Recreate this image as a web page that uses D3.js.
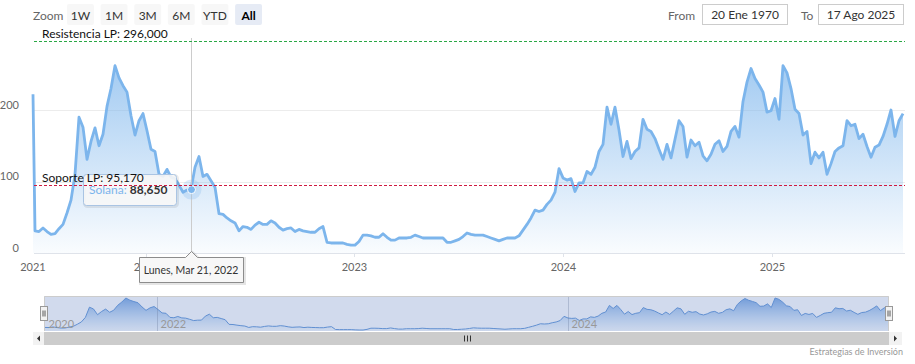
<!DOCTYPE html>
<html>
<head>
<meta charset="utf-8">
<script src="https://cdn.jsdelivr.net/npm/d3@7"></script>
<style>
  body { margin: 0; background: #fff; }
  svg text { font-family: Lato, "Open Sans", sans-serif; }
</style>
</head>
<body>
<div id="chart"></div>
<script>
// weekly closes (Monday) starting at firstWeek
const firstWeek = '2021-06-21'
const outlierDate = '1970-01-20'
const outlierValue = 222
const prices = [
  31, 30, 35, 30, 26, 27, 34, 40, 56, 74, 110, 190, 176, 131, 156, 175, 150, 166, 205, 230,
  262, 245, 234, 225, 192, 165, 185, 195, 171, 145, 142, 110, 107, 117, 106, 104, 95, 85, 88, 88.65,
  120, 135, 107, 110, 101, 92, 55, 54, 49, 45, 42, 31, 37, 36, 33, 39, 43, 40, 40, 45,
  42, 36, 32, 34, 35, 30, 33, 31, 30, 29, 29, 34, 37, 15, 14, 14, 14, 14, 12, 11,
  11, 16, 25, 25, 24, 22, 22, 27, 22, 18, 18, 21, 21, 21, 22, 25, 23, 21, 21, 21,
  21, 21, 21, 15, 15, 17, 19, 23, 28, 26, 25, 25, 25, 23, 21, 19, 17, 19, 21, 21,
  21, 24, 32, 40, 49, 60, 58, 60, 68, 74, 85, 118, 105, 102, 104, 86, 98, 98, 114, 110,
  120, 142, 152, 204, 180, 204, 172, 135, 156, 132, 142, 147, 187, 173, 170, 160, 145, 131, 152, 133,
  159, 185, 177, 134, 158, 150, 155, 136, 129, 138, 152, 157, 142, 149, 170, 177, 162, 212, 239, 258,
  244, 235, 225, 197, 199, 216, 187, 262, 252, 230, 201, 195, 165, 170, 125, 141, 133, 141, 110, 125,
  142, 147, 150, 185, 178, 180, 160, 166, 149, 134, 148, 151, 163, 180, 200, 163, 185, 195,
]
const seriesName = 'Solana'
const hoverIndex = 39

const yTicks = [0, 100, 200]
const yearTicks = ['2021-01-01', '2022-01-01', '2023-01-01', '2024-01-01', '2025-01-01']
const yearLabels = ['2021', '2022', '2023', '2024', '2025']
const navTickDates = ['2021-06-21', '2022-01-01', '2024-01-01']
const navTickLabels = ['2020', '2022', '2024']

const plotLineNames = ['Resistencia LP', 'Soporte LP']
const plotLineValues = [296, 95.17]

const rangeButtons = ['1W', '1M', '3M', '6M', 'YTD', 'All']
const selectedButton = 'All'
const rangeFrom = '1970-01-20'
const rangeTo = '2025-08-17'
const credits = 'Estrategias de Inversión'

const config = {
  width: 915,
  height: 364,
  plot: {left: 34, right: 905, top: 38, bottom: 253},
  nav: {left: 44, right: 889, top: 296, bottom: 331},
  scroll: {top: 332, height: 13},
  lineColor: '#7cb5ec',
  plotLineColors: ['#2aa845', '#d01a40'],
}

const es = d3.timeFormatLocale({
  dateTime: '%A, %e %B %Y', date: '%d/%m/%Y', time: '%H:%M:%S', periods: ['AM', 'PM'],
  days: ['Domingo', 'Lunes', 'Martes', 'Miércoles', 'Jueves', 'Viernes', 'Sábado'],
  shortDays: ['Dom', 'Lun', 'Mar', 'Mié', 'Jue', 'Vie', 'Sáb'],
  months: ['Enero', 'Febrero', 'Marzo', 'Abril', 'Mayo', 'Junio', 'Julio', 'Agosto',
    'Septiembre', 'Octubre', 'Noviembre', 'Diciembre'],
  shortMonths: ['Ene', 'Feb', 'Mar', 'Abr', 'May', 'Jun', 'Jul', 'Ago', 'Sep', 'Oct', 'Nov', 'Dic'],
})
const fmtNum = d3.formatLocale({decimal: ',', thousands: '.', grouping: [3], currency: ['', '']}).format('.3f')
const parse = d3.timeParse('%Y-%m-%d')
const fmtTip = es.format('%A, %b %d, %Y')
const fmtInput = es.format('%d %b %Y')

const start = parse(firstWeek)
const series = prices.map((v, i) => ({date: d3.timeDay.offset(start, 7 * i), value: v}))
const mainData = [{date: parse(outlierDate), value: outlierValue}, ...series]
const last = series[series.length - 1].date

const P = config.plot
const N = config.nav

// ordinal-like axis: the lone 1970 point takes a single slot before the weekly data
const x = d3.scaleTime()
    .domain([parse(outlierDate), start, last])
    .range([33, 35, 903])
const y = d3.scaleLinear().domain([0, 300]).range([P.bottom, 38.5])

const navX = d3.scaleTime()
    .domain([start, parse('2022-01-01'), parse('2024-01-01'), last])
    .range([N.left + 1, 157, 568, N.right - 1])
const navY = d3.scaleLinear().domain(d3.extent(prices)).range([N.bottom - 1, N.top + 2])

const svg = d3.select('#chart').append('svg')
    .attr('width', config.width)
    .attr('height', config.height)

const defs = svg.append('defs')
const grad = defs.append('linearGradient').attr('id', 'areaFill')
    .attr('gradientUnits', 'userSpaceOnUse')
    .attr('x1', 0).attr('x2', 0).attr('y1', P.top).attr('y2', P.bottom)
grad.append('stop').attr('offset', 0).attr('stop-color', config.lineColor).attr('stop-opacity', 0.8)
grad.append('stop').attr('offset', 1).attr('stop-color', config.lineColor).attr('stop-opacity', 0.04)
const navGrad = defs.append('linearGradient').attr('id', 'navFill')
    .attr('gradientUnits', 'userSpaceOnUse')
    .attr('x1', 0).attr('x2', 0).attr('y1', N.top).attr('y2', N.bottom)
navGrad.append('stop').attr('offset', 0).attr('stop-color', '#3f7fd6').attr('stop-opacity', 0.75)
navGrad.append('stop').attr('offset', 1).attr('stop-color', '#7cb5ec').attr('stop-opacity', 0.05)

/* range selector and date inputs */
const ctrl = svg.append('g')
ctrl.append('text').attr('x', 33).attr('y', 20).attr('font-size', 12).attr('fill', '#666').text('Zoom')
const btn = d3.scaleBand().domain(rangeButtons).range([67, 262]).paddingInner(0.2)
const buttons = ctrl.selectAll('g.btn').data(rangeButtons).enter().append('g')
    .attr('transform', (d) => `translate(${btn(d)},4)`)
buttons.append('rect')
    .attr('width', btn.bandwidth()).attr('height', 21).attr('rx', 2)
    .attr('fill', (d) => d === selectedButton ? '#e6ebf5' : '#f7f7f7')
buttons.append('text')
    .attr('x', btn.bandwidth() / 2).attr('y', 15.5)
    .attr('text-anchor', 'middle').attr('font-size', 12)
    .attr('font-weight', (d) => d === selectedButton ? 'bold' : 'normal')
    .attr('fill', (d) => d === selectedButton ? '#000' : '#333')
    .text((d) => d)

const inputs = [
  {label: 'From', lx: 668, bx: 702, text: fmtInput(parse(rangeFrom))},
  {label: 'To', lx: 801, bx: 818, text: fmtInput(parse(rangeTo))},
]
inputs.forEach((d) => {
  ctrl.append('text').attr('x', d.lx).attr('y', 20).attr('font-size', 12).attr('fill', '#666').text(d.label)
  ctrl.append('rect').attr('x', d.bx + 0.5).attr('y', 4.5).attr('width', 85).attr('height', 20)
      .attr('fill', '#fff').attr('stroke', '#cccccc')
  ctrl.append('text').attr('x', d.bx + 43).attr('y', 19).attr('text-anchor', 'middle')
      .attr('font-size', 12).attr('fill', '#333').text(d.text)
})

/* grid */
svg.append('g').selectAll('line').data(yTicks).enter().append('line')
    .attr('x1', P.left).attr('x2', P.right)
    .attr('y1', (d) => Math.round(y(d)) + 0.5).attr('y2', (d) => Math.round(y(d)) + 0.5)
    .attr('stroke', (d) => d === 0 ? '#dfe3ea' : '#ececec')

/* series */
const area = d3.area().x((d) => x(d.date)).y0(P.bottom).y1((d) => y(d.value))
const line = d3.line().x((d) => x(d.date)).y((d) => y(d.value))
svg.append('path').datum(mainData).attr('d', area).attr('fill', 'url(#areaFill)')
svg.append('path').datum(mainData).attr('d', line)
    .attr('fill', 'none').attr('stroke', config.lineColor)
    .attr('stroke-width', 2.8).attr('stroke-linejoin', 'round')

/* axes labels */
const xAxis = svg.append('g')
yearTicks.forEach((t, i) => {
  const px = Math.round(x(parse(t))) + 0.5
  if (i > 0) {
    xAxis.append('line').attr('x1', px).attr('x2', px).attr('y1', P.bottom).attr('y2', P.bottom + 4)
        .attr('stroke', '#dfe3ea')
  }
  xAxis.append('text').attr('x', i === 0 ? 33 : px).attr('y', 271)
      .attr('text-anchor', 'middle').attr('font-size', 11).attr('fill', '#666')
      .text(yearLabels[i])
})
svg.append('g').selectAll('text').data(yTicks).enter().append('text')
    .attr('x', 19).attr('y', (d) => y(d) - 1.5)
    .attr('text-anchor', 'end').attr('font-size', 11).attr('fill', '#666')
    .text((d) => d)

/* hover state */
const hp = series[hoverIndex]
const hx = Math.round(x(hp.date)) + 0.5
const hy = y(hp.value)
svg.append('line').attr('x1', hx).attr('x2', hx).attr('y1', P.top).attr('y2', P.bottom)
    .attr('stroke', '#cccccc')

const tip = svg.append('g')
tip.append('rect').attr('x', 84.5).attr('y', 175.5).attr('width', 93).attr('height', 31).attr('rx', 3)
    .attr('fill', 'none').attr('stroke', 'rgba(0,0,0,0.08)').attr('stroke-width', 3)
tip.append('rect').attr('x', 83.5).attr('y', 174.5).attr('width', 93).attr('height', 31).attr('rx', 3)
    .attr('fill', 'rgba(247,247,247,0.9)').attr('stroke', '#a9c4e3')
const tipText = tip.append('text').attr('x', 89).attr('y', 194).attr('font-size', 12)
tipText.append('tspan').attr('fill', config.lineColor).text(seriesName + ': ')
tipText.append('tspan').attr('fill', '#333').attr('font-weight', 'bold').text(fmtNum(hp.value))

svg.append('circle').attr('cx', hx).attr('cy', hy).attr('r', 10)
    .attr('fill', config.lineColor).attr('fill-opacity', 0.25)
svg.append('circle').attr('cx', hx).attr('cy', hy).attr('r', 4)
    .attr('fill', config.lineColor).attr('stroke', '#fff').attr('stroke-width', 1)

/* plot lines */
plotLineValues.forEach((v, i) => {
  const py = Math.round(y(v)) + 0.5
  svg.append('line').attr('x1', P.left).attr('x2', P.right).attr('y1', py).attr('y2', py)
      .attr('stroke', config.plotLineColors[i]).attr('stroke-width', 1.2)
      .attr('stroke-dasharray', '3,2')
  svg.append('text').attr('x', 42).attr('y', py - 4).attr('font-size', 12).attr('fill', '#111')
      .text(`${plotLineNames[i]}: ${fmtNum(v)}`)
})

/* date tooltip on the x axis */
const dt = svg.append('g')
const dtPath = `M139.5,257.5 H${hx - 6} L${hx},251.5 L${hx + 6},257.5 H243.5 V282.5 H139.5 Z`
dt.append('path').attr('d', dtPath).attr('transform', 'translate(1,1)')
    .attr('fill', 'none').attr('stroke', 'rgba(0,0,0,0.1)').attr('stroke-width', 3)
dt.append('path').attr('d', dtPath).attr('fill', '#f7f7f7').attr('stroke', '#8c8c8c')
dt.append('text').attr('x', 191).attr('y', 273.5).attr('text-anchor', 'middle')
    .attr('font-size', 10.5).attr('fill', '#333').text(fmtTip(hp.date))

/* navigator */
const nav = svg.append('g')
const navArea = d3.area().x((d) => navX(d.date)).y0(N.bottom).y1((d) => navY(d.value))
const navLine = d3.line().x((d) => navX(d.date)).y((d) => navY(d.value))
nav.append('path').datum(series).attr('d', navArea).attr('fill', 'url(#navFill)')
nav.append('path').datum(series).attr('d', navLine)
    .attr('fill', 'none').attr('stroke', '#5f95d8').attr('stroke-width', 1)
nav.append('rect').attr('x', N.left).attr('y', N.top).attr('width', N.right - N.left)
    .attr('height', N.bottom - N.top).attr('fill', 'rgba(102,133,194,0.3)')
navTickDates.forEach((t, i) => {
  const px = Math.round(navX(parse(t))) + 0.5
  if (i > 0) {
    nav.append('line').attr('x1', px).attr('x2', px).attr('y1', N.top).attr('y2', N.bottom)
        .attr('stroke', 'rgba(110,125,160,0.35)')
  }
  nav.append('text').attr('x', px + 3).attr('y', 328).attr('font-size', 11)
      .attr('fill', '#999').text(navTickLabels[i])
})
nav.append('path')
    .attr('d', `M${N.left + 0.5},${N.bottom} V${N.top + 0.5} H${N.right - 0.5} V${N.bottom}`)
    .attr('fill', 'none').attr('stroke', '#cccccc')
;[N.left, N.right].forEach((hx0) => {
  const g = nav.append('g').attr('transform', `translate(${Math.round(hx0) - 3.5},306.5)`)
  g.append('rect').attr('width', 7).attr('height', 14).attr('fill', '#f2f2f2').attr('stroke', '#999')
  g.append('path').attr('d', 'M2.5,4 V10 M4.5,4 V10').attr('stroke', '#333').attr('stroke-width', 0.8)
})

/* scrollbar */
const S = config.scroll
const sb = svg.append('g')
sb.append('rect').attr('x', N.left).attr('y', S.top).attr('width', N.right - N.left)
    .attr('height', S.height).attr('fill', '#cccccc')
;[{x0: 33, w: N.left - 33, dir: -1}, {x0: N.right, w: 13, dir: 1}].forEach((b) => {
  sb.append('rect').attr('x', b.x0).attr('y', S.top).attr('width', b.w).attr('height', S.height)
      .attr('fill', '#f2f2f2')
  const cx = b.x0 + b.w / 2
  const cy = S.top + S.height / 2
  sb.append('path')
      .attr('d', `M${cx - 1.5 * b.dir},${cy - 3} L${cx + 1.5 * b.dir},${cy} L${cx - 1.5 * b.dir},${cy + 3} Z`)
      .attr('fill', '#333')
})
const rx = Math.round((N.left + N.right) / 2)
sb.append('path')
    .attr('d', `M${rx - 2.5},${S.top + 3.5} V${S.top + 9.5} M${rx + 0.5},${S.top + 3.5} V${S.top + 9.5} M${rx + 3.5},${S.top + 3.5} V${S.top + 9.5}`)
    .attr('stroke', '#333').attr('stroke-width', 1)

svg.append('text').attr('x', 903).attr('y', 355).attr('text-anchor', 'end')
    .attr('font-size', 9).attr('fill', '#999').text(credits)
</script>
</body>
</html>
